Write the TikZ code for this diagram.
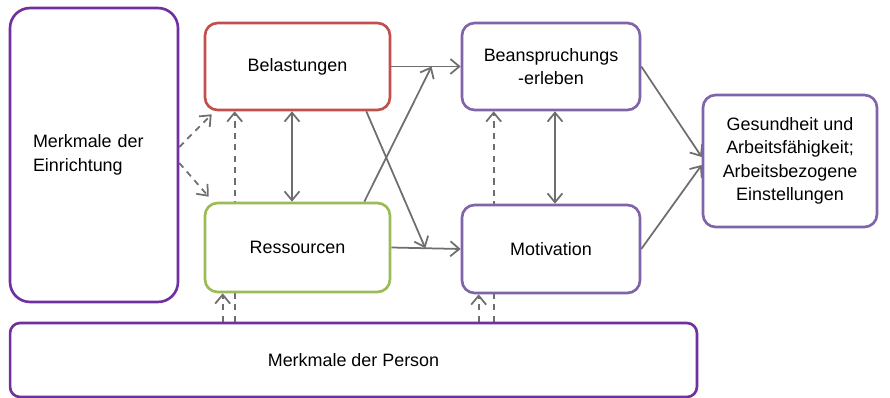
\documentclass[tikz,border=0pt]{standalone}
\usepackage{fontspec}
\setmainfont{Liberation Sans}
\usetikzlibrary{arrows.meta,calc,backgrounds}

\definecolor{darkpurple}{RGB}{112,48,160}
\definecolor{lightpurple}{RGB}{128,100,170}
\definecolor{boxred}{RGB}{192,80,77}
\definecolor{boxgreen}{RGB}{155,187,89}
\definecolor{arrowgray}{RGB}{110,110,110}

\begin{document}
\begin{tikzpicture}[x=0.02cm, y=-0.02cm,
    box/.style={draw, fill=white, line width=1.5pt, rounded corners=0.25cm,
      align=center, inner sep=0pt,
      font=\fontsize{10.2}{13.4}\selectfont},
    flow/.style={draw=arrowgray, line width=1pt,
      -{Straight Barb[length=1.8mm, width=3mm]}},
    both/.style={flow, {Straight Barb[length=1.8mm, width=3mm]}-{Straight Barb[length=1.8mm, width=3mm]}},
    infl/.style={flow, dash pattern=on 3.5pt off 3pt}]
\useasboundingbox (0,0) rectangle (890,398);

% boxes
\node[box, draw=darkpurple, rounded corners=0.4cm, minimum height=5.88cm,
  text width=2.44cm, inner xsep=0.46cm, align=left] (ein) at (94,155)
  {Merkmale der\\Einrichtung};
\node[box, draw=boxred, minimum width=3.7cm, minimum height=1.74cm] (bel) at (297.5,66.5) {Belastungen};
\node[box, draw=boxgreen, minimum width=3.7cm, minimum height=1.78cm] (res) at (297.5,247.5) {Ressourcen};
\node[box, draw=lightpurple, minimum width=3.56cm, minimum height=1.74cm] (bea) at (551,66.5) {Beanspruchungs\\-erleben};
\node[box, draw=lightpurple, minimum width=3.56cm, minimum height=1.76cm] (mot) at (551,249) {Motivation};
\node[box, draw=lightpurple, minimum width=3.48cm, minimum height=2.64cm] (ges) at (790,161)
  {Gesundheit und\\Arbeitsf\"ahigkeit;\\Arbeitsbezogene\\Einstellungen};
\node[box, draw=darkpurple, rounded corners=0.2cm, minimum width=13.74cm, minimum height=1.48cm] (per) at (353.5,360)
  {Merkmale der Person};

% connectors
\begin{scope}[on background layer]
\draw[infl] ([yshift=0.16cm]ein.east) -- ([xshift=0.16cm, yshift=-0.06cm]bel.south west);
\draw[infl] ([yshift=-0.16cm]ein.east) -- ([xshift=0.1cm, yshift=0.1cm]res.north west);
\draw[infl] ([xshift=0.62cm]bel.south west |- per.north) -- ([xshift=0.62cm]bel.south west);
\draw[infl] ([xshift=0.38cm]res.south west |- per.north) -- ([xshift=0.38cm]res.south west);
\draw[infl] ([xshift=0.66cm]bea.south west |- per.north) -- ([xshift=0.66cm]bea.south west);
\draw[infl] ([xshift=0.36cm]mot.south west |- per.north) -- ([xshift=0.36cm]mot.south west);

\draw[both] ([xshift=-0.11cm]bel.south) -- ([xshift=-0.11cm]res.north);
\draw[both] ([xshift=0.08cm]bea.south) -- ([xshift=0.08cm]mot.north);

\draw[flow] (bel.east) -- (bea.west);
\draw[flow] (res.east) -- (mot.west);
\draw[flow] ([xshift=-0.54cm]res.north east) -- ($(bel.east)!0.58!(bea.west)$);
\draw[flow] ([xshift=-0.5cm]bel.south east) -- ($(res.east)!0.49!(mot.west)$);
\draw[flow] (bea.east) -- ([yshift=0.08cm]ges.west);
\draw[flow] (mot.east) -- ([yshift=-0.08cm]ges.west);
\end{scope}
\end{tikzpicture}
\end{document}
